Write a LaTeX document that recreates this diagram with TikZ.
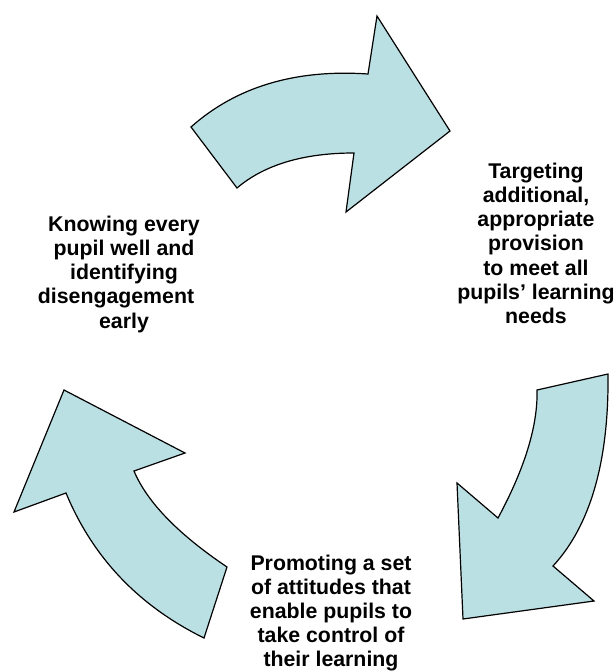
\documentclass[tikz,border=0pt]{standalone}
\usepackage{fontspec}
\setmainfont{Liberation Sans}
\usetikzlibrary{positioning}
\definecolor{colorcy}{HTML}{BBE0E3}
\tikzset{
  shapecy/.style={fill=colorcy, draw=black, line width=1.2pt, line join=miter},
  textcy/.style={align=center, inner sep=0pt, anchor=north,
    font=\fontsize{21.3}{24.2}\selectfont\bfseries}
}

\begin{document}
\begin{tikzpicture}[x=1pt, y=-1pt]
\useasboundingbox (0,0) rectangle (615,672);
% top arrow
\draw[shapecy] (191,127) .. controls (236,87) and (295,69) .. (368,74) -- (377,16) -- (450,131)
  -- (346,212) -- (354,153) .. controls (303,153) and (264,165) .. (237,188) -- cycle;
% right arrow
\draw[shapecy] (537,390) .. controls (538,425) and (525,468) .. (498,518) -- (457,483) -- (463,619)
  -- (594,601) -- (553,566) .. controls (590,526) and (609,462) .. (608,374) -- cycle;
% left arrow
\draw[shapecy] (227,567) .. controls (178,534) and (147,502) .. (134,471) -- (185,453) -- (64,390)
  -- (14,512) -- (66,493) .. controls (93,558) and (139,606) .. (204,638) -- cycle;
\node[textcy] (know) at (124,215.7) {Knowing every\\pupil well and\\identifying\\disengagement\hbox to 0.75em{}\\early};
\node[textcy] (target) at (536,162.7) {Targeting\\additional,\\appropriate\\provision\\to meet all\\pupils’ learning\\needs};
\node[textcy] (promote) at (331,554.5) {Promoting a set\\of attitudes that\\enable pupils to\\take control of\\their learning};
\end{tikzpicture}
\end{document}
